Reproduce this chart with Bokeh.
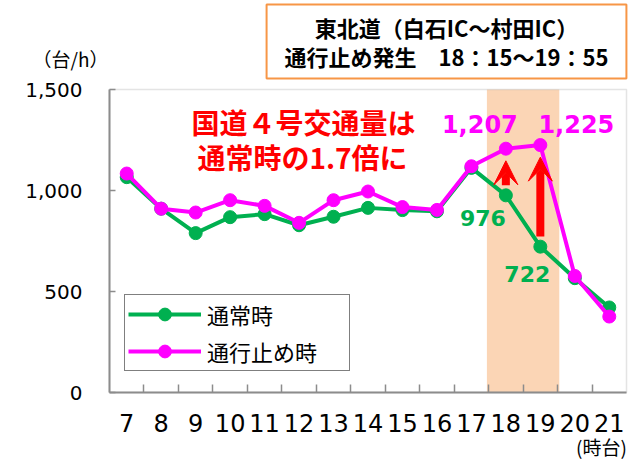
from bokeh.plotting import figure
from bokeh.embed import file_html
from bokeh.resources import INLINE
from bokeh.models import (Range1d, FixedTicker, NumeralTickFormatter, BoxAnnotation, Label,
                          Legend, LegendItem, Arrow, VeeHead, ColumnDataSource)

# ---- data ----
hours = [7, 8, 9, 10, 11, 12, 13, 14, 15, 16, 17, 18, 19, 20, 21]
normal = [1066, 910, 789, 868, 883, 828, 870, 914, 903, 897, 1112, 976, 722, 566, 421]
closure = [1084, 910, 891, 952, 924, 840, 952, 995, 918, 904, 1120, 1207, 1225, 577, 376]
hour_labels = [str(h) for h in hours]
y_ticks = [0, 500, 1000, 1500]
closure_band = (17.45, 19.55)          # 18:15〜19:55 shaded period
arrow_hours = [18, 19]
series_names = ["通常時", "通行止め時"]
title_text = "東北道（白石IC～村田IC）\n通行止め発生　18：15～19：55"
note_lines = ["国道４号交通量は", "通常時の1.7倍に"]

GREEN = "#00B050"
MAGENTA = "#FF00FF"
RED = "#FF0000"
AXIS_GRAY = "#8c8c8c"
JP = "Noto Sans CJK JP"
NUM = "DejaVu Sans"

# ---- layout: frame covers the whole canvas; the plot area is placed inside it ----
W, H = 640, 462
PX_L, PX_R, PX_T, PX_B = 109, 626, 89, 392
x_lo, x_hi = hours[0] - 0.5, hours[-1] + 0.5
y_lo, y_hi = y_ticks[0], y_ticks[-1]
sx = (PX_R - PX_L) / (x_hi - x_lo)
sy = (PX_B - PX_T) / (y_hi - y_lo)

src = ColumnDataSource(dict(x=hours, normal=normal, closure=closure))

p = figure(width=W, height=H, output_backend="svg", toolbar_location=None,
           x_range=Range1d(x_lo - PX_L / sx, x_hi + (W - PX_R) / sx),
           y_range=Range1d(y_lo - (H - PX_B) / sy, y_hi + PX_T / sy),
           min_border=0)
p.xgrid.visible = False
p.ygrid.visible = False
p.outline_line_color = None
p.background_fill_color = "white"
p.border_fill_color = "white"

# shaded closure period
p.add_layout(BoxAnnotation(left=closure_band[0], right=closure_band[1], bottom=y_lo, top=y_hi,
                           fill_color="#FBD5B5", fill_alpha=1.0, line_alpha=0, level="underlay"))
# plot-area border
p.add_layout(BoxAnnotation(left=x_lo, right=x_hi, bottom=y_lo, top=y_hi, fill_alpha=0,
                           line_color="#a6a6a6", line_width=1.5, level="underlay"))

# lines
ln_n = p.line("x", "normal", source=src, line_color=GREEN, line_width=4)
sc_n = p.scatter("x", "normal", source=src, size=13, fill_color=GREEN, line_color=GREEN)
ln_c = p.line("x", "closure", source=src, line_color=MAGENTA, line_width=4)
sc_c = p.scatter("x", "closure", source=src, size=13, fill_color=MAGENTA, line_color=MAGENTA)

# axes (fixed inside the frame)
xa = p.xaxis[0]
xa.fixed_location = y_lo
xa.bounds = (x_lo, x_hi)
xa.ticker = FixedTicker(ticks=hours, minor_ticks=[h + 0.5 for h in hours[:-1]])
xa.major_label_overrides = {h: s for h, s in zip(hours, hour_labels)}
xa.major_tick_in = 0
xa.major_tick_out = 0
xa.minor_tick_in = 8
xa.minor_tick_out = 0
xa.minor_tick_line_color = AXIS_GRAY
xa.minor_tick_line_width = 1.5
xa.axis_line_color = AXIS_GRAY
xa.axis_line_width = 2
xa.major_label_text_font = NUM
xa.major_label_text_font_size = "24px"
xa.major_label_text_color = "black"
xa.major_label_standoff = 21

ya = p.yaxis[0]
ya.fixed_location = x_lo
ya.bounds = (y_lo, y_hi)
ya.ticker = FixedTicker(ticks=y_ticks, minor_ticks=[])
ya.formatter = NumeralTickFormatter(format="0,0")
ya.major_tick_in = 6
ya.major_tick_out = 0
ya.major_tick_line_color = AXIS_GRAY
ya.major_tick_line_width = 1.5
ya.axis_line_color = AXIS_GRAY
ya.axis_line_width = 2
ya.major_label_text_font = NUM
ya.major_label_text_font_size = "20px"
ya.major_label_text_color = "black"
ya.major_label_standoff = 27

# arrows from normal to closure at the closure hours
for h in arrow_hours:
    i = hours.index(h)
    p.add_layout(Arrow(end=VeeHead(size=24, fill_color=RED, line_color=RED),
                       x_start=h, y_start=normal[i] + 50, x_end=h, y_end=closure[i] - 60,
                       line_color=RED, line_width=8))

# data labels
def dlabel(h, series, color, size, dx, dy):
    i = hours.index(h)
    v = series[i]
    p.add_layout(Label(x=h, y=v, text=f"{v:,}", x_offset=dx, y_offset=dy,
                       text_align="center", text_baseline="middle",
                       text_font=NUM, text_font_style="bold", text_font_size=size,
                       text_color=color))

dlabel(18, closure, MAGENTA, "24px", -26, 25)
dlabel(19, closure, MAGENTA, "24px", 36, 21)
dlabel(18, normal, GREEN, "22px", -23, -23)
dlabel(19, normal, GREEN, "22px", -13, -27)

def slabel(x, y, text, size, color="black", bold=False, **kw):
    p.add_layout(Label(x=x, y=H - y, x_units="screen", y_units="screen", text=text,
                       text_align="center", text_baseline="middle", text_font=JP,
                       text_font_style="bold" if bold else "normal",
                       text_font_size=size, text_color=color, **kw))

# red note
slabel(303, 121, note_lines[0], "28px", RED, True)
slabel(302, 156, note_lines[1], "28px", RED, True)

# title box
slabel(446, 41, title_text, "22px", "black", True,
       text_line_height=0.88,
       border_line_color="#F79646", border_line_width=2,
       background_fill_color="white", padding=dict(x=18, y=7))

# unit labels
slabel(70, 58, "（台/h）", "19px")
slabel(601, 446, "(時台)", "19px")

# legend
legend = Legend(items=[LegendItem(label=series_names[0], renderers=[ln_n, sc_n]),
                       LegendItem(label=series_names[1], renderers=[ln_c, sc_c])],
                location=(124, H - 371), margin=0, padding=3, spacing=5,
                glyph_width=73, glyph_height=32, label_height=32, label_width=139,
                label_standoff=6, label_text_font=JP, label_text_font_size="22px",
                label_text_color="black", border_line_color="black", border_line_width=1.5,
                background_fill_color="white", background_fill_alpha=1.0)
p.add_layout(legend)

open("out.html", "w").write(file_html(p, INLINE))
